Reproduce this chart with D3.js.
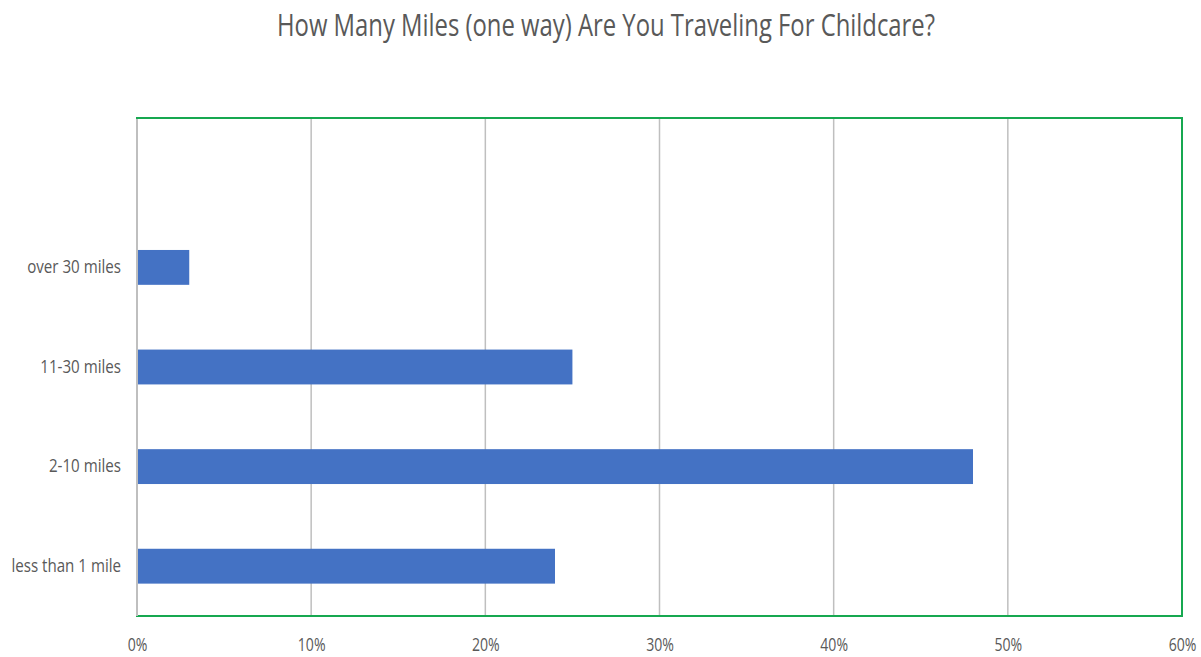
<!DOCTYPE html>
<html>
<head>
<meta charset="utf-8">
<script src="https://cdn.jsdelivr.net/npm/d3@7"></script>
<style>
  body { margin: 0; background: #fff; }
  text { fill: #595959; font-family: "Open Sans", sans-serif; }
</style>
</head>
<body>
<div id="chart"></div>
<script>
// data
var categories = ["less than 1 mile", "2-10 miles", "11-30 miles", "over 30 miles", ""];
var values = [0.24, 0.48, 0.25, 0.03, null];
var xTicks = [0, 0.1, 0.2, 0.3, 0.4, 0.5, 0.6];
var title = "How Many Miles (one way) Are You Traveling For Childcare?";

var width = 1201, height = 657;
var plotLeft = 137, plotRight = 1182, plotTop = 118, plotBottom = 616;

var svg = d3.select("#chart").append("svg")
    .attr("width", width)
    .attr("height", height);

var xScale = d3.scaleLinear().domain([0, 0.6]).range([plotLeft, plotRight]);
var yScale = d3.scaleBand()
    .domain(categories)
    .range([plotBottom, plotTop])
    .paddingInner(0.65)
    .paddingOuter(0.325);

// narrow the glyphs, the source font is condensed
function squeeze(sel, k) {
    sel.each(function () {
        var w = this.getComputedTextLength();
        d3.select(this).attr("textLength", w * k).attr("lengthAdjust", "spacingAndGlyphs");
    });
}

// title
svg.append("text")
    .attr("x", 606)
    .attr("y", 36)
    .attr("text-anchor", "middle")
    .attr("textLength", 658)
    .attr("lengthAdjust", "spacingAndGlyphs")
    .style("font-size", "31px")
    .text(title);

// plot border
svg.append("rect")
    .attr("x", plotLeft)
    .attr("y", plotTop)
    .attr("width", plotRight - plotLeft)
    .attr("height", plotBottom - plotTop)
    .attr("fill", "none")
    .attr("stroke", "#17a850")
    .style("stroke-width", 2);

// gridlines
svg.append("g").selectAll("line")
    .data(xTicks.slice(1, -1))
    .join("line")
    .attr("x1", function (d) { return xScale(d); })
    .attr("x2", function (d) { return xScale(d); })
    .attr("y1", plotTop + 1)
    .attr("y2", plotBottom - 1)
    .attr("stroke", "#bfbfbf")
    .style("stroke-width", 1.5);

// category axis line
svg.append("line")
    .attr("x1", plotLeft).attr("x2", plotLeft)
    .attr("y1", plotTop + 1).attr("y2", plotBottom)
    .attr("stroke", "#bfbfbf")
    .style("stroke-width", 2);

// bars
var barData = categories.map(function (c, i) { return { cat: c, val: values[i] }; })
    .filter(function (d) { return d.val != null; });

svg.append("g").selectAll("rect")
    .data(barData)
    .join("rect")
    .attr("x", xScale(0) + 1)
    .attr("y", function (d) { return yScale(d.cat); })
    .attr("width", function (d) { return xScale(d.val) - xScale(0) - 1; })
    .attr("height", yScale.bandwidth())
    .attr("fill", "#4472c4");

// x axis
var xAxis = svg.append("g")
    .attr("transform", `translate(0,${plotBottom})`)
    .call(d3.axisBottom(xScale).tickValues(xTicks).tickFormat(d3.format(".0%")).tickSize(0).tickPadding(22));
xAxis.select(".domain").remove();
xAxis.selectAll("text").style("font-size", "19px").style("fill", "#595959")
    .style("font-family", "\"Open Sans\", sans-serif")
    .call(squeeze, 0.74);

// y axis
var yAxis = svg.append("g")
    .attr("transform", `translate(${plotLeft},0)`)
    .call(d3.axisLeft(yScale).tickSize(0).tickPadding(16));
yAxis.select(".domain").remove();
yAxis.selectAll("text").style("font-size", "18px").style("fill", "#595959")
    .style("font-family", "\"Open Sans\", sans-serif")
    .call(squeeze, 0.84);
</script>
</body>
</html>
